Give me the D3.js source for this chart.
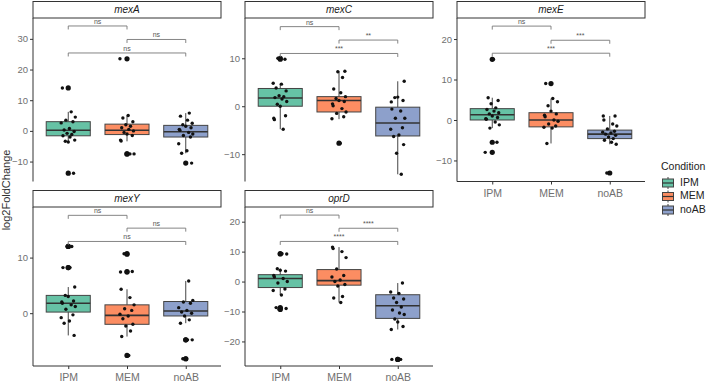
<!DOCTYPE html>
<html lang="en">
<head>
<meta charset="UTF-8">
<title>log2FoldChange by condition</title>
<script src="https://d3js.org/d3.v7.min.js"></script>
<style>
    body { margin: 0; background: #fff; font-family: "Liberation Sans", Arial, sans-serif; }
    svg text { font-family: "Liberation Sans", Arial, sans-serif; }
</style>
</head>
<body>
<div id="chart"></div>
<script>
// ---- data ----
const conditions = ['IPM', 'MEM', 'noAB'];
const genes = ['mexA', 'mexC', 'mexE', 'mexY', 'oprD'];
const colors = ['#66C2A5', '#FC8D62', '#8DA0CB'];

// y-axis limits per panel (free scales)
const yDomains = [[-16.5, 36.8], [-15.7, 18.4], [-15.2, 25.2], [-9.5, 19.1], [-28.2, 24.9]];
const yTicks = [[-10, 0, 10, 20, 30], [-10, 0, 10], [-10, 0, 10, 20], [0, 10], [-20, -10, 0, 10, 20]];

// box stats per gene per condition: [whiskerLow, q1, median, q3, whiskerHigh]
const mexABox = [[-3.6, -1.6, 0.2, 3.0, 6.2], [-3.4, -1.2, 0.2, 2.2, 5.0], [-7.3, -2.0, -0.3, 1.8, 5.8]];
const mexCBox = [[-4.8, 0.0, 1.7, 3.7, 4.8], [-2.7, -1.2, 1.2, 2.0, 7.3], [-14.2, -6.2, -3.5, -0.2, 5.2]];
const mexEBox = [[-2.0, 0.0, 1.3, 2.8, 5.5], [-5.8, -1.7, 0.0, 1.8, 5.3], [-6.0, -4.6, -3.5, -2.5, 1.0]];
const mexYBox = [[-4.0, 0.2, 1.8, 3.2, 4.7], [-4.2, -2.0, -0.4, 1.5, 4.3], [-1.8, -0.5, 0.4, 2.1, 5.8]];
const oprDBox = [[-4.5, -2.0, 1.0, 2.3, 4.3], [-7.0, -1.2, 0.3, 4.0, 11.5], [-16.0, -12.3, -8.1, -4.4, -0.5]];

// individual samples
const mexAPts = [
    [14, 6.2, 4.5, 3.5, 3.0, 2.6, 0.8, 0.3, -0.2, -0.8, -1.2, -1.6, -2.0, -3.0, -3.4, -3.6, -13.8],
    [23.5, 5.0, 4.2, 3.0, 2.0, 1.5, 1.0, 0.5, 0.0, -0.5, -1.0, -1.5, -3.0, -3.3, -7.5, -7.5],
    [5.8, 4.8, 3.5, 2.5, 2.0, 1.5, 1.0, 0.5, 0.2, -0.5, -1.0, -1.5, -2.0, -4.2, -6.5, -7.3, -10.5]
];
const mexCPts = [
    [10, 9.8, 4.8, 4.6, 3.8, 3.2, 2.2, 2.0, 1.8, 1.5, 1.0, 0.4, 0.0, -2.0, -2.5, -2.8, -4.8],
    [7.3, 7.2, 6.0, 3.6, 2.8, 2.0, 1.6, 1.2, 1.0, 0.5, 0.1, -0.5, -1.2, -1.5, -2.2, -2.6, -7.7],
    [5.2, 1.8, 1.9, 1.2, 0.9, -0.6, -1.0, -2.5, -2.5, -4.5, -4.8, -6.0, -6.3, -8.0, -9.8, -14.2]
];
const mexEPts = [
    [15, 5.5, 4.8, 4.0, 3.0, 2.6, 2.2, 1.8, 1.5, 1.0, 0.6, 0.3, 0.2, -0.5, -1.2, -2.0, -5.5, -8.0],
    [9.0, 5.3, 4.5, 3.5, 2.2, 1.5, 1.2, 0.8, 0.0, -0.3, -1.0, -1.5, -1.8, -2.0, -5.8],
    [1.0, 1.0, 0.0, -1.0, -1.5, -2.2, -2.8, -3.0, -3.2, -3.5, -3.8, -4.2, -4.6, -5.0, -5.5, -6.0, -13.1]
];
const mexYPts = [
    [12, 12, 8.2, 8.2, 4.7, 3.2, 3.0, 2.2, 2.0, 1.8, 1.5, 1.2, 0.7, -0.3, -0.8, -1.4, -1.8, -4.0],
    [10.7, 10.6, 7.5, 7.4, 4.3, 2.8, 1.5, 0.8, 0.5, -0.2, -0.5, -1.0, -2.0, -2.3, -3.2, -4.2, -7.6],
    [5.8, 2.3, 2.0, 1.8, 1.0, 0.5, 0.2, 0.0, -0.5, -1.2, -1.8, -4.8, -4.8, -8.2, -8.2]
];
const oprDPts = [
    [9.3, 9.2, 4.3, 3.8, 3.5, 2.0, 1.5, 1.0, 0.0, -0.5, -2.5, -3.0, -4.5, -8.7, -9.0, -9.3],
    [11.5, 11.0, 10.0, 8.0, 4.2, 2.0, 1.5, 0.5, 0.0, -1.0, -1.5, -5.0, -5.5, -7.0],
    [-0.5, -3.5, -4.0, -5.5, -5.8, -7.0, -8.5, -9.5, -10.5, -11.0, -12.5, -13.5, -15.0, -16.0, -26, -26]
];

// significance brackets: pairs IPM-MEM, MEM-noAB, IPM-noAB
const bracketPairs = [[0, 1], [1, 2], [0, 2]];
const bracketY = [[34.2, 29.8, 25.4], [16.6, 13.8, 11.0], [23.2, 19.7, 16.5], [17.6, 15.3, 12.9], [22.2, 17.8, 13.4]];
const bracketLabels = [['ns', 'ns', 'ns'], ['ns', '**', '***'], ['ns', '***', '***'], ['ns', 'ns', 'ns'], ['ns', '****', '****']];

const boxes = [mexABox, mexCBox, mexEBox, mexYBox, oprDBox];
const points = [mexAPts, mexCPts, mexEPts, mexYPts, oprDPts];

// ---- layout ----
const W = 713, H = 386;
const panelW = 188, stripH = 17;
const colX = [33, 245, 457];
const rowTop = [1, 190];
const rowBottom = [181.5, 366];
const tickCol = '#707070';
const jit = [-0.1, 0.05, 0.12, -0.04, 0.08, -0.12, 0.02, -0.07, 0.1, -0.02, 0.06, -0.09, 0.03, 0.11, -0.05, 0.0, 0.09, -0.11];

const svg = d3.select('#chart').append('svg')
    .attr('width', W).attr('height', H);

// x-axis shown under the bottom panel of each column
const showX = [false, false, true, true, true];

genes.forEach((gene, gi) => {
    const col = gi % 3, row = Math.floor(gi / 3);
    const x0 = colX[col];
    const top = rowTop[row] + stripH;
    const bottom = rowBottom[row];

    const g = svg.append('g');

    // strip
    g.append('rect')
        .attr('x', x0).attr('y', rowTop[row] + 0.5)
        .attr('width', panelW).attr('height', stripH - 0.5)
        .attr('fill', '#fff').attr('stroke', '#333').attr('stroke-width', 1);
    g.append('text')
        .attr('x', x0 + panelW / 2).attr('y', rowTop[row] + stripH / 2 + 1)
        .attr('text-anchor', 'middle').attr('dominant-baseline', 'middle')
        .attr('font-size', 10).attr('font-style', 'italic').attr('fill', '#1a1a1a')
        .text(gene);

    const x = d3.scaleBand().domain(conditions)
        .range([x0, x0 + panelW]).paddingOuter(0.1).paddingInner(0);
    // ggplot-style discrete expansion: 0.6 units each side
    const unit = panelW / 3.2;
    const cx = i => x0 + (0.6 + i) * unit;
    const y = d3.scaleLinear().domain(yDomains[gi]).range([bottom, top]);

    // y axis
    const yAxis = d3.axisLeft(y).tickValues(yTicks[gi]).tickSize(3).tickPadding(2);
    const ya = g.append('g').attr('transform', `translate(${x0},0)`).call(yAxis);
    ya.select('.domain').attr('stroke', '#333').attr('d', `M0,${top}V${bottom}`);
    ya.selectAll('.tick line').attr('stroke', '#333');
    ya.selectAll('.tick text').attr('fill', tickCol).attr('font-size', 9.5);

    if (showX[gi]) {
        const xs = d3.scaleOrdinal().domain(conditions).range(conditions.map((c, i) => cx(i) - x0));
        const xAxis = d3.axisBottom(xs).tickSize(3).tickPadding(5);
        const xa = g.append('g').attr('transform', `translate(${x0},${bottom})`).call(xAxis);
        xa.select('.domain').attr('stroke', '#333').attr('d', `M0,0H${panelW}`);
        xa.selectAll('.tick line').attr('stroke', '#333');
        xa.selectAll('.tick text').attr('fill', tickCol).attr('font-size', 10.5);
    }

    // boxes
    boxes[gi].forEach((b, ci) => {
        const c = cx(ci), bw = unit * 0.75;
        const [lo, q1, med, q3, hi] = b;
        g.append('line').attr('x1', c).attr('x2', c).attr('y1', y(q3)).attr('y2', y(hi))
            .attr('stroke', '#444').attr('stroke-width', 1);
        g.append('line').attr('x1', c).attr('x2', c).attr('y1', y(q1)).attr('y2', y(lo))
            .attr('stroke', '#444').attr('stroke-width', 1);
        g.append('rect')
            .attr('x', c - bw / 2).attr('y', y(q3))
            .attr('width', bw).attr('height', y(q1) - y(q3))
            .attr('fill', colors[ci]).attr('stroke', '#444').attr('stroke-width', 1);
        g.append('line').attr('x1', c - bw / 2).attr('x2', c + bw / 2)
            .attr('y1', y(med)).attr('y2', y(med))
            .attr('stroke', '#333').attr('stroke-width', 1.6);

        // outliers (boxplot layer)
        points[gi][ci].filter(v => v < lo || v > hi).forEach(v => {
            g.append('circle').attr('cx', c).attr('cy', y(v)).attr('r', 2.6).attr('fill', '#111');
        });
        // jittered samples
        points[gi][ci].forEach((v, k) => {
            g.append('circle')
                .attr('cx', c + jit[(k + ci * 5 + gi * 3) % jit.length] * unit)
                .attr('cy', y(v)).attr('r', 1.7).attr('fill', '#111');
        });
    });

    // significance brackets
    bracketPairs.forEach((p, bi) => {
        const yy = y(bracketY[gi][bi]);
        const xa1 = cx(p[0]), xa2 = cx(p[1]);
        g.append('path')
            .attr('d', `M${xa1},${yy + 3.5}V${yy}H${xa2}V${yy + 3.5}`)
            .attr('fill', 'none').attr('stroke', '#777').attr('stroke-width', 0.9);
        g.append('text')
            .attr('x', (xa1 + xa2) / 2).attr('y', yy - 2)
            .attr('text-anchor', 'middle').attr('font-size', 7).attr('fill', '#555')
            .text(bracketLabels[gi][bi]);
    });
});

// y title
svg.append('text')
    .attr('transform', 'translate(10,190) rotate(-90)')
    .attr('text-anchor', 'middle').attr('font-size', 11).attr('fill', '#333')
    .text('log2FoldChange');

// legend
const leg = svg.append('g').attr('transform', 'translate(661,0)');
leg.append('text').attr('x', 0).attr('y', 170)
    .attr('font-size', 10.5).attr('fill', '#222').text('Condition');
conditions.forEach((c, i) => {
    const yc = 183 + i * 13.5;
    leg.append('line').attr('x1', 7).attr('x2', 7).attr('y1', yc - 6).attr('y2', yc + 6)
        .attr('stroke', '#444');
    leg.append('rect').attr('x', 1.5).attr('y', yc - 4).attr('width', 11).attr('height', 8)
        .attr('fill', colors[i]).attr('stroke', '#444');
    leg.append('line').attr('x1', 1.5).attr('x2', 12.5).attr('y1', yc).attr('y2', yc)
        .attr('stroke', '#333').attr('stroke-width', 1.2);
    leg.append('text').attr('x', 19).attr('y', yc).attr('dominant-baseline', 'middle')
        .attr('font-size', 10.5).attr('fill', '#222').text(c);
});
</script>
</body>
</html>
